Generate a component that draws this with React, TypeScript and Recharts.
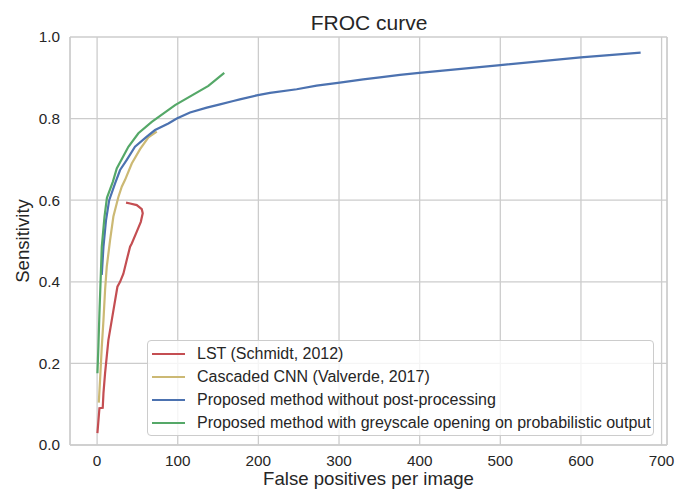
import React from 'react';
import { LineChart, Line, XAxis, YAxis, CartesianGrid, ReferenceLine, Legend } from 'recharts';

const xTicks = [0, 100, 200, 300, 400, 500, 600, 700];
const yTicks = [0, 0.2, 0.4, 0.6, 0.8, 1.0];
const xDomain = [-33.6, 706.7];

const lstX = [0.4, 2.9, 7, 7.9, 9.9, 14, 18.2, 25.2, 28.5, 32.6, 37.6, 40.9, 43, 49.2, 54.2, 56.6, 55.4, 49.2, 40.9, 35.9];
const lstY = [0.029, 0.09, 0.091, 0.127, 0.176, 0.257, 0.306, 0.388, 0.4, 0.42, 0.46, 0.486, 0.494, 0.523, 0.547, 0.568, 0.578, 0.588, 0.592, 0.594];

const cnnX = [2.1, 3.7, 5.8, 7.9, 9.9, 12, 16.1, 20.2, 26.4, 30.6, 34.7, 43, 53.3, 63.6, 74];
const cnnY = [0.104, 0.16, 0.24, 0.306, 0.38, 0.437, 0.502, 0.56, 0.608, 0.633, 0.65, 0.69, 0.725, 0.754, 0.768];

const rawX = [5.8, 7.9, 11, 15, 22.3, 28.5, 36.8, 47, 61.6, 71.9, 88.4, 98.8, 115.2, 136, 152.4, 168.9, 177, 197.9, 214.4, 247.5, 272.2, 301, 330, 350.7, 375.5, 399.4, 500, 599.8, 674];
const rawY = [0.417, 0.486, 0.55, 0.6, 0.641, 0.674, 0.699, 0.731, 0.756, 0.772, 0.788, 0.8, 0.815, 0.827, 0.835, 0.843, 0.847, 0.857, 0.863, 0.872, 0.881, 0.888, 0.896, 0.901, 0.907, 0.912, 0.931, 0.95, 0.9615];

const openX = [0.4, 1.6, 2.9, 4.6, 5.8, 9.2, 12.2, 19.5, 24.4, 38.8, 51.2, 67.8, 96.7, 138, 157.7];
const openY = [0.176, 0.24, 0.323, 0.417, 0.486, 0.56, 0.606, 0.645, 0.678, 0.731, 0.764, 0.792, 0.833, 0.88, 0.912];

const seriesNames = [
  'LST (Schmidt, 2012)',
  'Cascaded CNN (Valverde, 2017)',
  'Proposed method without post-processing',
  'Proposed method with greyscale opening on probabilistic output',
];
const seriesColors = ['#C44E52', '#CCB974', '#4C72B0', '#55A868'];

const zip = (xs: number[], ys: number[]) => xs.map((x, i) => ({ x, y: ys[i] }));
const seriesData = [zip(lstX, lstY), zip(cnnX, cnnY), zip(rawX, rawY), zip(openX, openY)];

const FONT = '"Liberation Sans", Arial, sans-serif';
const TXT = '#262626';
const GRID = '#cccccc';

const LegendBox = () => (
  <div
    style={{
      width: 507,
      height: 96,
      boxSizing: 'border-box',
      border: `1px solid ${GRID}`,
      borderRadius: 4,
      background: 'rgba(255,255,255,0.8)',
      padding: '1px 0 0 4px',
      fontFamily: FONT,
      fontSize: 16,
      color: TXT,
    }}
  >
    {seriesNames.map((n, i) => (
      <div key={n} style={{ display: 'flex', alignItems: 'center', height: 23 }}>
        <svg width={33} height={6} style={{ marginRight: 12, display: 'block' }}>
          <line x1={0} y1={3} x2={33} y2={3} stroke={seriesColors[i]} strokeWidth={2.2} />
        </svg>
        <span style={{ whiteSpace: 'nowrap' }}>{n}</span>
      </div>
    ))}
  </div>
);

export default function App() {
  return (
    <div style={{ position: 'absolute', left: 0, top: 0, width: 688, height: 490, background: '#fff' }}>
      <LineChart width={688} height={490} margin={{ top: 37, right: 21, bottom: 0, left: 0 }}>
        <CartesianGrid stroke={GRID} strokeWidth={1.3} />
        <XAxis
          type="number"
          dataKey="x"
          domain={xDomain}
          allowDataOverflow
          ticks={xTicks}
          height={45}
          tickLine={false}
          tickSize={0}
          tickMargin={10}
          axisLine={{ stroke: GRID, strokeWidth: 1.3 }}
          tick={{ fill: TXT, fontSize: 15.3, fontFamily: FONT }}
          label={{
            content: (p: any) => {
              const vb = p.viewBox;
              return (
                <text x={vb.x + vb.width / 2} y={vb.y + vb.height - 5} textAnchor="middle" fill={TXT} fontSize={18.6} fontFamily={FONT}>
                  False positives per image
                </text>
              );
            },
          }}
        />
        <YAxis
          type="number"
          domain={[0, 1]}
          ticks={yTicks}
          width={70}
          tickLine={false}
          tickSize={0}
          tickMargin={10}
          axisLine={{ stroke: GRID, strokeWidth: 1.3 }}
          tickFormatter={(v: number) => v.toFixed(1)}
          tick={{ fill: TXT, fontSize: 15.3, fontFamily: FONT }}
          label={{
            content: (p: any) => {
              const vb = p.viewBox;
              return (
                <g>
                  <text
                    transform={`translate(${vb.x + 29}, ${vb.y + vb.height / 2}) rotate(-90)`}
                    textAnchor="middle"
                    fill={TXT}
                    fontSize={18.6}
                    fontFamily={FONT}
                  >
                    Sensitivity
                  </text>
                  <text x={369} y={30} textAnchor="middle" fill={TXT} fontSize={21} fontFamily={FONT}>
                    FROC curve
                  </text>
                </g>
              );
            },
          }}
        />
        <ReferenceLine x={xDomain[1]} stroke={GRID} strokeWidth={1.3} ifOverflow="extendDomain" />
        {seriesData.map((d, i) => (
          <Line
            key={seriesNames[i]}
            data={d}
            dataKey="y"
            name={seriesNames[i]}
            type="linear"
            stroke={seriesColors[i]}
            strokeWidth={2.2}
            dot={false}
            activeDot={false}
            isAnimationActive={false}
          />
        ))}
        <Legend
          layout="vertical"
          align="center"
          verticalAlign="middle"
          wrapperStyle={{ left: 147, top: 340, width: 'auto' }}
          content={() => <LegendBox />}
        />
      </LineChart>
    </div>
  );
}
